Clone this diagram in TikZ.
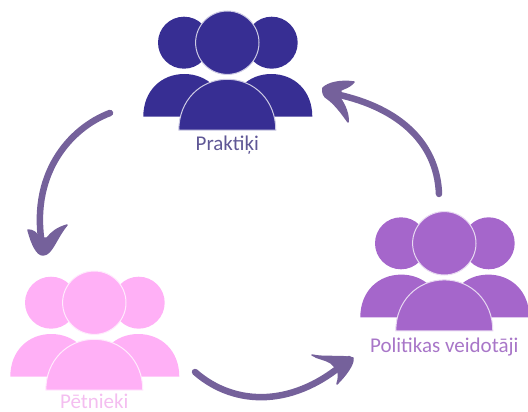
\documentclass[tikz,border=0pt]{standalone}
\usepackage{fontspec}
\setmainfont{Carlito}
\usepackage{xcolor}
\definecolor{darkblue}{HTML}{372E93}
\definecolor{pinkish}{HTML}{FFB0F6}
\definecolor{violet}{HTML}{A566CB}
\definecolor{textblue}{HTML}{5F5795}
\definecolor{textpink}{HTML}{F4BEF0}
\definecolor{textviolet}{HTML}{A876C8}
\definecolor{arrowpurple}{HTML}{75619B}
\tikzset{
    brush/.style={draw=arrowpurple,line width=6.5pt,line cap=round,line join=round},
    barb/.style={draw=arrowpurple,fill=arrowpurple,line width=1.5pt,line join=round},
    pics/people/.style={code={
        \fill[#1] (-43.3,0) circle (26);
        \fill[#1] (44.4,0) circle (26);
        \fill[#1] (-84,74) .. controls (-84,48) and (-66,31.3) .. (-43,31.3) .. controls (-20,31.3) and (-2,48) .. (-2,74) -- cycle;
        \fill[#1] (85,74) .. controls (85,48) and (67,31.3) .. (44,31.3) .. controls (21,31.3) and (3,48) .. (3,74) -- cycle;
        \filldraw[fill=#1,draw=#1!25!white,line width=1pt] (0,0) circle (31.7);
        \filldraw[fill=#1,draw=#1!25!white,line width=1pt] (-48.5,87.5) .. controls (-48.5,58) and (-27,36.6) .. (0,36.6) .. controls (27,36.6) and (48.5,58) .. (48.5,87.5) -- cycle;
    }}
}
\begin{document}
\begin{tikzpicture}[x=1pt,y=-1pt,font=\fontsize{21}{23}\selectfont]
    \useasboundingbox (0,0) rectangle (528,412);
    \foreach \group/\xpos/\ypos/\txty/\col/\txtcol/\txt in {
        prak/227.3/42.7/150.5/darkblue/textblue/Praktiķi,
        petn/94.3/302.7/408/pinkish/textpink/Pētnieki,
        poli/444.3/243.3/352.3/violet/textviolet/Politikas veidotāji} {
        \pic at (\xpos,\ypos) {people=\col};
        \node[text=\txtcol,inner sep=0pt,anchor=base] (\group) at (\xpos,\txty) {\txt};
    }
    % praktiki to petnieki
    \coordinate (a1) at (110,113);
    \coordinate (a2) at (43,250);
    \draw[brush] (a1) .. controls (70,128) and (28,175) .. (a2);
    \draw[barb] (28,230) .. controls (32,245) and (37,255) .. (43,255) .. controls (52,255) and (56,238) .. (67,225) .. controls (57,228) and (52,232) .. (47,238) -- (39,238) .. controls (37,233) and (33,230) .. cycle;
    % petnieki to politikas
    \coordinate (b1) at (195,372);
    \coordinate (b2) at (349,359);
    \draw[brush] (b1) .. controls (235,407) and (295,408) .. (b2);
    \draw[barb] (312,355) .. controls (325,358) and (340,355) .. (353,358) .. controls (354,364) and (346,375) .. (337,384) .. controls (339,378) and (339,373) .. (337,369) -- (331,363) .. controls (325,359) and (318,359) .. cycle;
    % politikas to praktiki
    \coordinate (c1) at (439,194);
    \coordinate (c2) at (330,93);
    \draw[brush] (c1) .. controls (437,140) and (395,105) .. (c2);
    \draw[barb] (354,82) .. controls (340,80) and (328,83) .. (323,88) .. controls (322,93) and (324,97) .. (328,99) .. controls (336,105) and (343,115) .. (348,122) .. controls (349,115) and (345,105) .. (340,98) -- (341,90) .. controls (345,88) and (350,87) .. cycle;
\end{tikzpicture}
\end{document}
